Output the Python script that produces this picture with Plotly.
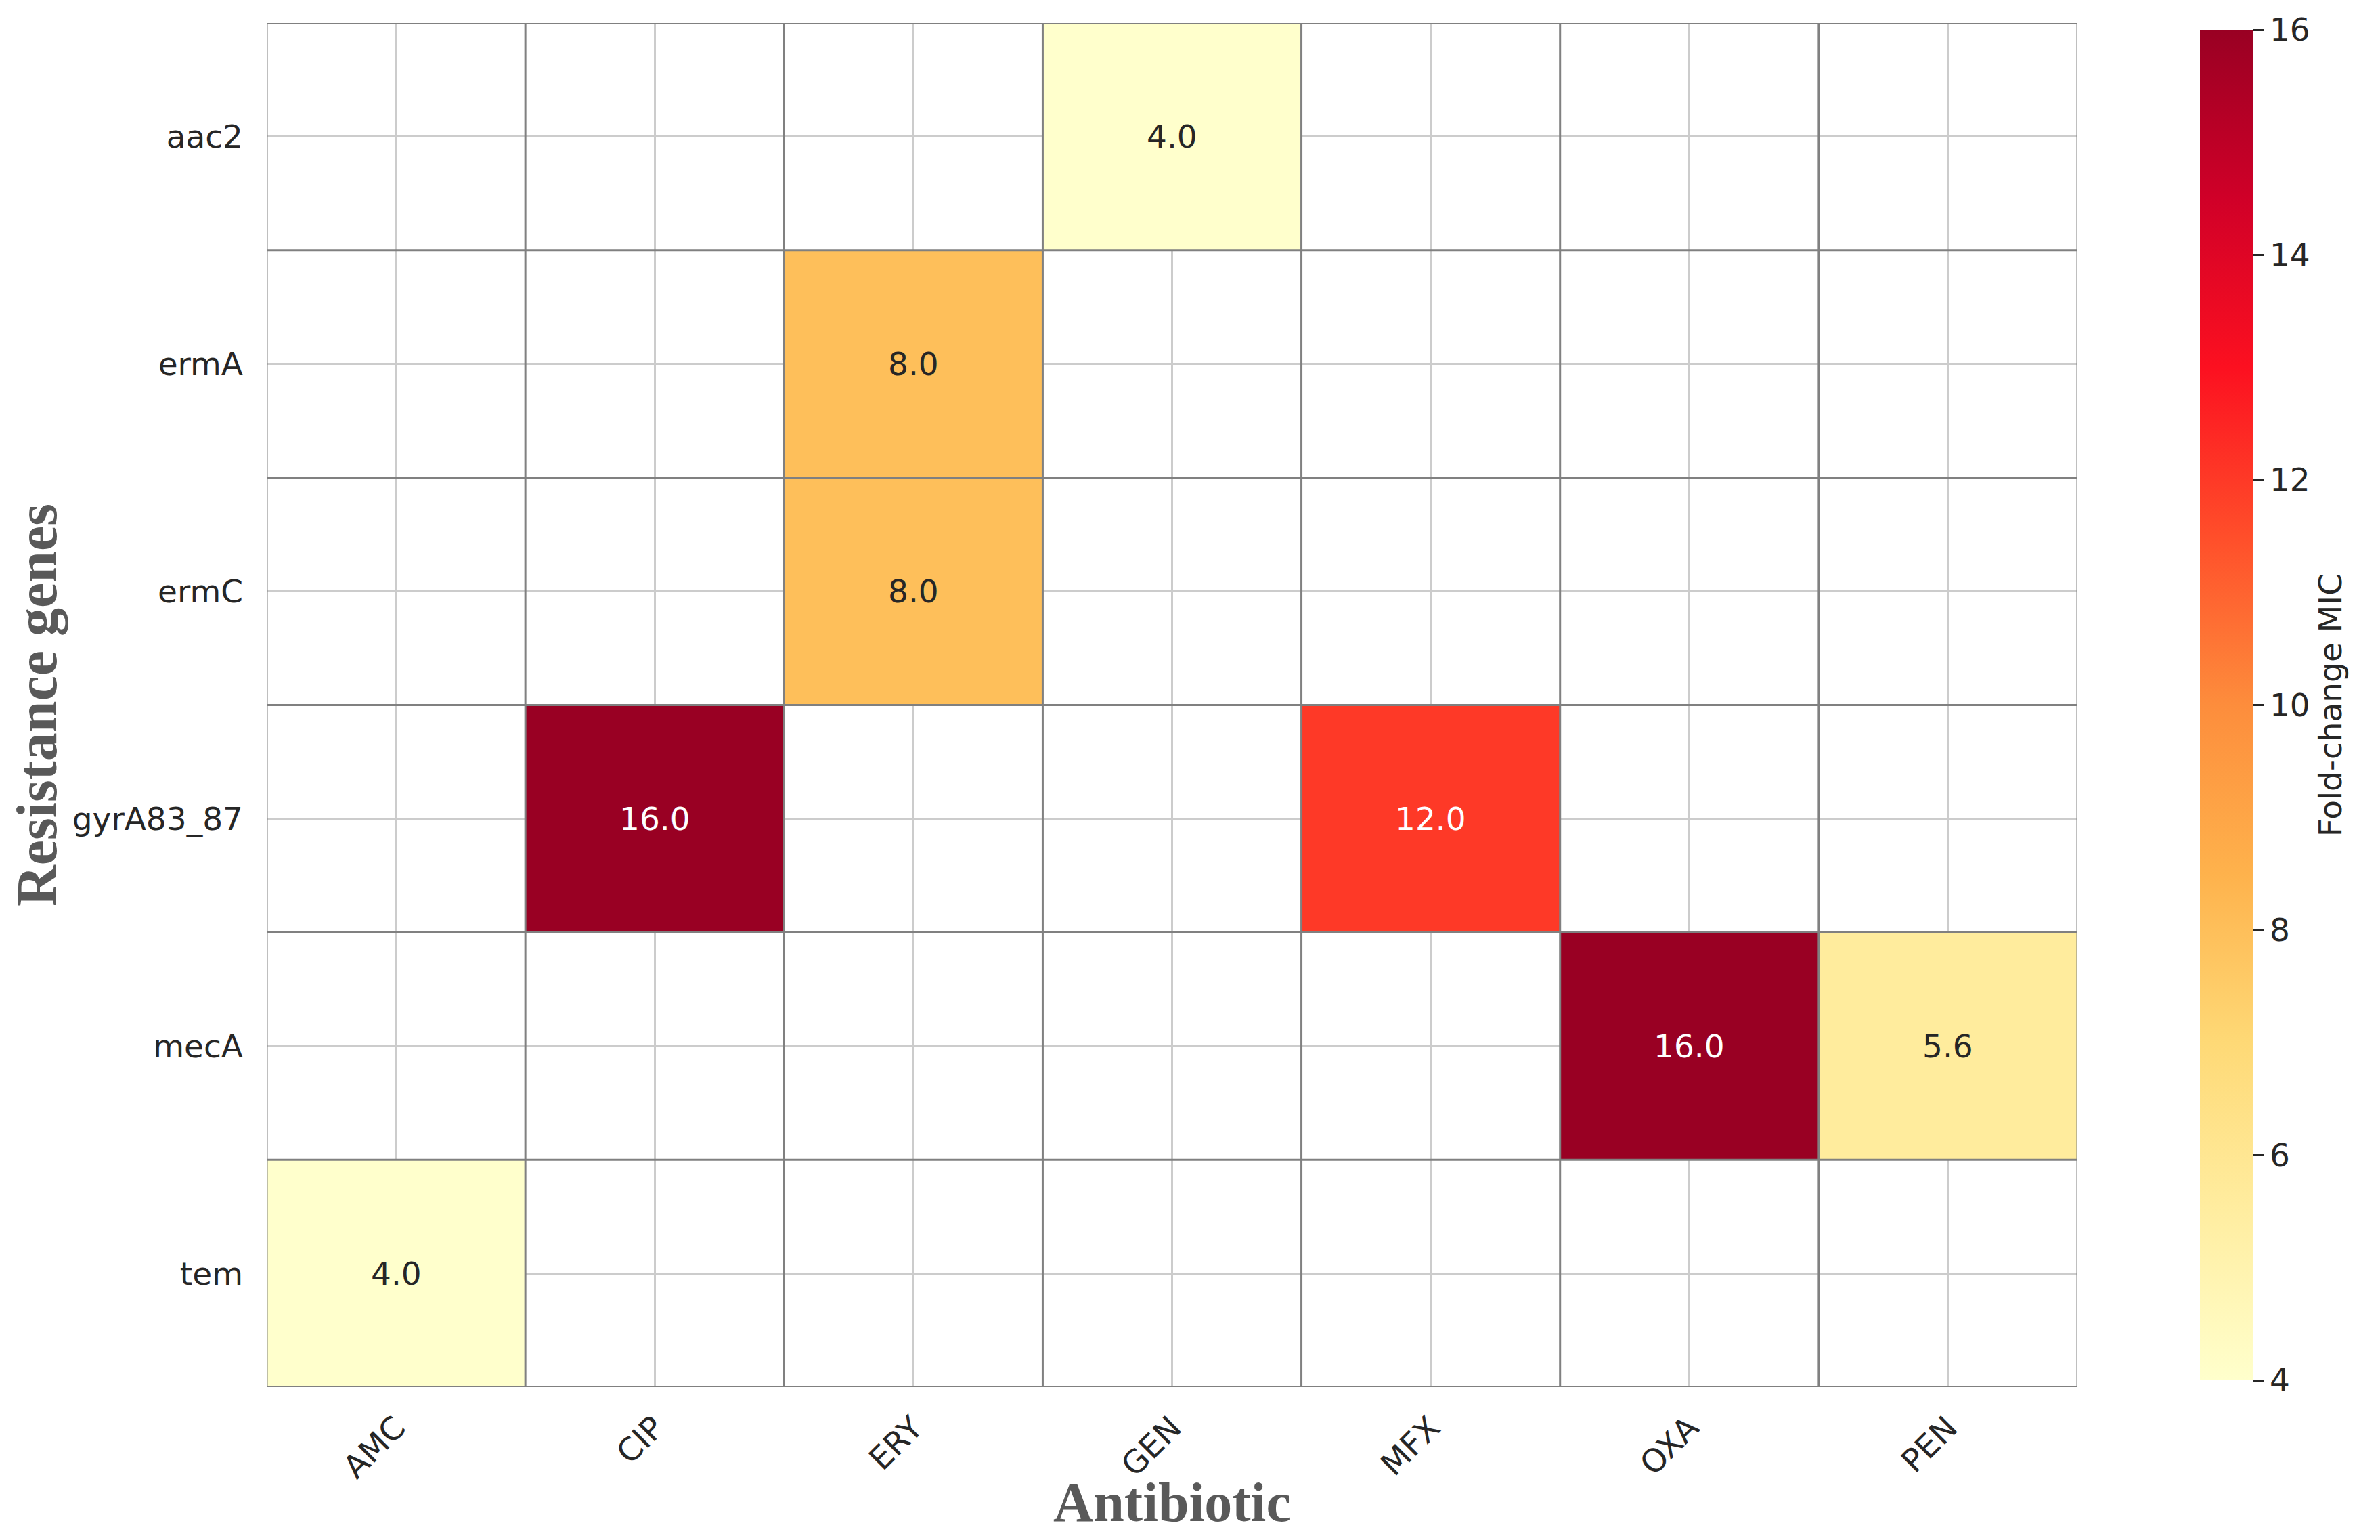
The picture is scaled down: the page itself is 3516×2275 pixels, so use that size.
import plotly.graph_objects as go
from plotly.colors import sample_colorscale

# ---- data ----
genes = ["aac2", "ermA", "ermC", "gyrA83_87", "mecA", "tem"]
antibiotics = ["AMC", "CIP", "ERY", "GEN", "MFX", "OXA", "PEN"]
# fold-change MIC per gene (rows) x antibiotic (columns); None = no value
row_aac2 = [None, None, None, 4.0, None, None, None]
row_ermA = [None, None, 8.0, None, None, None, None]
row_ermC = [None, None, 8.0, None, None, None, None]
row_gyrA = [None, 16.0, None, None, 12.0, None, None]
row_mecA = [None, None, None, None, None, 16.0, 5.6]
row_tem = [4.0, None, None, None, None, None, None]
fold_change = [row_aac2, row_ermA, row_ermC, row_gyrA, row_mecA, row_tem]
cbar_ticks = [4, 6, 8, 10, 12, 14, 16]

zmin, zmax = 4, 16
colorscale = [
    [0.0, "#ffffcc"], [0.125, "#ffeda0"], [0.25, "#fed976"], [0.375, "#feb24c"],
    [0.5, "#fd8d3c"], [0.625, "#ff4e2a"], [0.75, "#fc1020"], [0.875, "#d00028"],
    [1.0, "#990023"],
]

TICK_FONT = dict(family="DejaVu Sans", size=47, color="#262626")
TITLE_FONT = dict(family="Liberation Serif", size=84, color="#595959")

fig = go.Figure()
fig.add_trace(go.Heatmap(
    z=fold_change, x=antibiotics, y=genes,
    zmin=zmin, zmax=zmax, colorscale=colorscale,
    hoverongaps=False,
    colorbar=dict(
        x=1.064, xanchor="left", y=0.5, yanchor="middle", len=1.0, lenmode="fraction",
        thickness=78, outlinewidth=0,
        tickvals=cbar_ticks, ticks="outside", ticklen=16, tickwidth=3, tickcolor="#262626",
        tickfont=TICK_FONT,
        title=dict(text="Fold-change MIC", side="right", font=TICK_FONT),
    ),
))

# annotations with contrasting text colours
annotations = []
for r, g in enumerate(genes):
    for c, a in enumerate(antibiotics):
        v = fold_change[r][c]
        if v is None:
            continue
        col = sample_colorscale(colorscale, [(v - zmin) / (zmax - zmin)])[0]
        rgb = [float(t) for t in col[col.find("(") + 1:col.find(")")].split(",")]
        lum = (0.299 * rgb[0] + 0.587 * rgb[1] + 0.114 * rgb[2]) / 255
        annotations.append(dict(
            x=a, y=g, text=f"{v:.1f}", showarrow=False,
            font=dict(family="DejaVu Sans", size=47,
                      color="white" if lum < 0.45 else "#262626"),
        ))

# x-axis title placed as a paper annotation
annotations.append(dict(
    x=0.5, xref="paper", y=-0.0845, yref="paper", xanchor="center", yanchor="middle",
    text="<b>Antibiotic</b>", showarrow=False,
    font=dict(family="Liberation Serif", size=82, color="#595959"),
))

# cell borders
shapes = []
nx, ny = len(antibiotics), len(genes)
for i in range(nx + 1):
    shapes.append(dict(type="line", xref="x", yref="y", layer="above",
                       x0=i - 0.5, x1=i - 0.5, y0=-0.5, y1=ny - 0.5,
                       line=dict(color="#808080", width=3)))
for j in range(ny + 1):
    shapes.append(dict(type="line", xref="x", yref="y", layer="above",
                       x0=-0.5, x1=nx - 0.5, y0=j - 0.5, y1=j - 0.5,
                       line=dict(color="#808080", width=3)))

fig.update_layout(
    width=3516, height=2275,
    margin=dict(l=386, r=455, t=26, b=234, autoexpand=False),
    paper_bgcolor="white", plot_bgcolor="white",
    annotations=annotations, shapes=shapes,
    xaxis=dict(
        range=[-0.5, nx - 0.5], showgrid=True, gridcolor="#cccccc", gridwidth=3,
        zeroline=False, showline=False, ticks="", tickangle=-45,
        tickfont=TICK_FONT, ticklabelstandoff=22,
    ),
    yaxis=dict(
        range=[ny - 0.5, -0.5], showgrid=True, gridcolor="#cccccc", gridwidth=3,
        zeroline=False, showline=False, ticks="",
        tickfont=TICK_FONT, ticklabelstandoff=34,
        title=dict(text="<b>Resistance genes</b>", font=TITLE_FONT, standoff=6),
    ),
)

fig.write_html("out.html")
